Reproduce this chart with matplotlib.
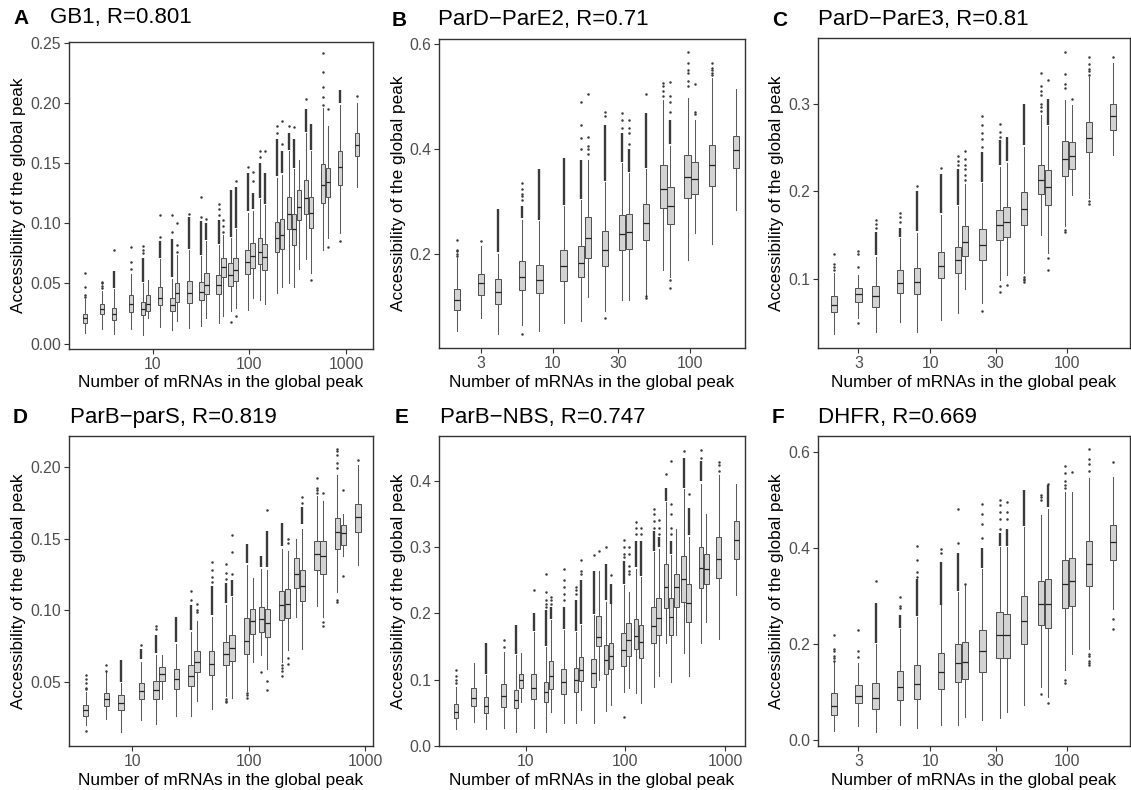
import numpy as np
import matplotlib
matplotlib.use("Agg")
import matplotlib.pyplot as plt

plt.rcParams['font.family'] = ['Liberation Sans', 'DejaVu Sans']

# ---- panel A: GB1 ----
a_pos = [2, 3, 4, 6, 8, 9, 12, 16, 18, 24, 32, 36, 48, 54, 64, 72, 96, 108, 128, 144, 192, 216, 256, 288, 324, 384, 432, 576, 648, 864, 1296]
a_lo = [.009, .012, .008, .012, .007, .021, .014, .011, .019, .013, .015, .021, .017, .023, .027, .030, .028, .038, .036, .033, .042, .047, .050, .047, .062, .070, .059, .078, .088, .092, .130]
a_q1 = [.017, .025, .020, .026, .024, .027, .032, .027, .035, .034, .036, .041, .041, .055, .048, .052, .058, .063, .066, .061, .076, .079, .095, .082, .103, .108, .096, .117, .122, .132, .156]
a_med = [.021, .029, .025, .033, .029, .033, .038, .032, .042, .042, .043, .049, .049, .064, .057, .061, .068, .073, .076, .072, .088, .090, .108, .095, .114, .121, .109, .132, .134, .147, .165]
a_q3 = [.025, .033, .030, .040, .035, .040, .047, .038, .050, .052, .051, .059, .057, .071, .067, .071, .078, .084, .088, .083, .101, .104, .122, .108, .128, .136, .122, .149, .146, .160, .175]
a_hi = [.037, .044, .045, .058, .050, .053, .070, .054, .074, .078, .073, .085, .082, .090, .088, .095, .109, .110, .120, .115, .138, .140, .160, .145, .153, .175, .160, .196, .181, .198, .200]
a_band = [None, None, (.046, .060), None, (.051, .071), None, (.071, .085), (.055, .087), None, (.079, .105), (.074, .102), (.086, .100), (.083, .103), None, (.089, .128), (.096, .130), (.110, .142), (.112, .125), (.121, .150), (.116, .142), (.139, .170), (.142, .160), (.161, .175), (.146, .170), None, (.176, .195), (.161, .183), None, None, (.200, .211), None]
a_out = [[.039, .040, .047, .059], [.046, .048, .050, .051], [.078], [.062, .068, .080], [.075, .078, .081], [], [.089, .107], [.093, .107], [.076, .082, .100], [.108], [.105, .122], [.104], [.107, .112, .116], [.093, .098, .103], [.018], [.023, .135], [.147], [.135, .143], [.155, .160], [.160], [.175, .181], [.166, .185], [.181], [.180], [], [.203], [.053], [.198, .205, .213, .226, .242], [.195, .080], [.085], [.206]]

# ---- panel B: ParD-ParE2 ----
b_pos = [2, 3, 4, 6, 8, 12, 16, 18, 24, 32, 36, 48, 64, 72, 96, 108, 144, 216]
b_lo = [.053, .078, .048, .065, .053, .069, .072, .119, .091, .113, .113, .119, .170, .157, .189, .240, .219, .283]
b_q1 = [.093, .1225, .105, .132, .126, .148, .156, .192, .1765, .207, .2095, .227, .2876, .2578, .3067, .315, .330, .363]
b_med = [.113, .145, .127, .157, .151, .1765, .183, .230, .208, .239, .242, .260, .324, .291, .347, .342, .369, .3975]
b_q3 = [.133, .1625, .152, .186, .180, .207, .215, .271, .243, .275, .276, .296, .370, .3276, .389, .375, .4076, .425]
b_hi = [.193, .2146, .200, .265, .262, .291, .303, .380, .338, .373, .354, .361, .494, .405, .497, .455, .535, .514]
b_band = [None, None, (.203, .285), (.268, .291), (.265, .362), (.293, .382), (.305, .380), None, (.340, .445), (.375, .430), (.356, .400), (.363, .468), None, (.410, .455), None, None, None, None]
b_out = [[.197, .200, .205, .208, .227], [.225], [], [.048, .303, .310, .315, .323, .335], [], [], [.40, .42, .445, .49], [.391, .40, .405, .423, .505], [.079, .462, .47], [.44, .455, .468], [.41, .43, .44, .455], [.117, .12, .505], [.50, .51, .52, .525], [.135, .15, .47, .49, .50, .527], [.52, .53, .545, .55, .564, .585], [.466, .47, .523], [.54, .545, .55, .555, .563], []]

# ---- panel C: ParD-ParE3 ----
c_pos = [2, 3, 4, 6, 8, 12, 16, 18, 24, 32, 36, 48, 64, 72, 96, 108, 144, 216]
c_lo = [.0368, .055, .0387, .050, .039, .053, .0608, .088, .072, .099, .1046, .1065, .150, .129, .160, .196, .192, .2417]
c_q1 = [.0615, .073, .068, .0836, .0825, .1008, .1065, .1255, .1217, .1446, .1476, .1617, .1968, .1846, .2177, .2253, .2444, .2695]
c_med = [.0703, .0825, .080, .095, .0958, .115, .121, .142, .139, .161, .1644, .1796, .213, .2048, .2368, .240, .2608, .2855]
c_q3 = [.0806, .0893, .092, .1095, .112, .130, .136, .160, .157, .179, .182, .1987, .230, .2238, .257, .2558, .2787, .300]
c_hi = [.106, .1046, .125, .1465, .152, .173, .1827, .208, .209, .228, .232, .251, .287, .274, .3046, .2989, .330, .3465]
c_band = [None, None, (.127, .153), (.148, .158), (.154, .200), (.175, .220), (.184, .225), None, (.211, .245), (.230, .258), (.234, .262), (.253, .300), None, (.276, .305), None, None, None, None]
c_out = [[.110, .113, .117, .128], [.049, .113, .128, .132], [.158, .162, .167], [.165, .170, .175], [.206], [.227], [.23, .235, .24], [.213, .218, .225, .23, .237, .2455], [.063, .25, .26, .267, .276, .2855], [.085, .092, .262, .268, .277], [.093], [.096, .098, .100, .102], [.292, .296, .30, .31, .315, .32, .335], [.110, .1236, .327], [.153, .156, .318, .323, .334, .359], [.305], [.1857, .1884, .333, .337, .34, .345, .353], [.353]]

# ---- panel D: ParB-parS ----
d_pos = [4, 6, 8, 12, 16, 18, 24, 32, 36, 48, 64, 72, 96, 108, 128, 144, 192, 216, 256, 288, 384, 432, 576, 648, 864]
d_lo = [.0198, .0244, .0151, .0233, .021, .0384, .0263, .0263, .0365, .0314, .040, .039, .044, .064, .0686, .059, .064, .072, .0953, .0733, .1028, .0953, .1128, .138, .1319]
d_q1 = [.0263, .0333, .0302, .0379, .0379, .0507, .0449, .0472, .057, .0547, .0616, .0647, .0698, .0837, .0849, .0814, .0935, .0947, .1156, .1063, .128, .1256, .143, .1458, .1547]
d_med = [.0302, .0384, .0356, .0437, .0442, .0553, .0519, .0542, .064, .0628, .0698, .074, .0784, .0923, .0937, .0912, .1035, .1047, .1256, .1167, .139, .1379, .1547, .154, .165]
d_q3 = [.0337, .0426, .0407, .0495, .0507, .0605, .0588, .0616, .0714, .0714, .0779, .083, .0947, .1007, .1023, .1012, .1133, .1147, .1365, .128, .1484, .1484, .1644, .1598, .1744]
d_hi = [.043, .057, .049, .064, .0686, .0686, .0767, .0849, .0923, .0953, .1035, .109, .1314, .1226, .129, .128, .143, .1412, .150, .157, .180, .176, .1942, .1674, .2012]
d_band = [None, None, (.050, .065), (.066, .073), (.070, .083), None, (.078, .095), (.086, .104), None, (.097, .117), (.105, .119), (.110, .121), (.133, .146), None, (.130, .138), (.130, .155), (.145, .161), None, None, (.160, .172), None, None, None, None, None]
d_out = [[.0156, .045, .046, .049, .052, .055], [.058, .0616], [], [.076], [.087, .089], [], [], [.107, .1133], [.0985, .1005, .1045], [.120, .123, .128, .1337], [.036, .037, .038, .122, .126, .1326], [.125, .1407, .1528], [.039, .041, .042], [], [.057], [.0442, .051, .170], [.054, .058, .060, .062], [.0628, .0667, .147, .150], [], [.175, .179], [.182, .184, .185, .1923], [.089, .092, .182], [.106, .107, .199, .203, .208, .211, .2128], [.124, .1837], [.2051]]

# ---- panel E: ParB-NBS ----
e_pos = [2, 3, 4, 6, 8, 9, 12, 16, 18, 24, 32, 36, 48, 54, 64, 72, 96, 108, 128, 144, 192, 216, 256, 288, 324, 384, 432, 576, 648, 864, 1296]
e_lo = [.0247, .0363, .0247, .026, .0212, .0665, .026, .0212, .0514, .0338, .0338, .0539, .0338, .0992, .052, .0615, .0816, .0866, .079, .064, .089, .1058, .1547, .0957, .168, .1395, .1058, .156, .1864, .162, .2277]
e_q1 = [.0413, .0605, .0489, .059, .0564, .0866, .0705, .0655, .0856, .0776, .0806, .0977, .0892, .151, .109, .116, .121, .136, .147, .132, .1557, .168, .2076, .168, .210, .2176, .1874, .2388, .2453, .253, .283]
e_med = [.0514, .0725, .060, .075, .069, .099, .0866, .0806, .1058, .0967, .0992, .1144, .110, .1637, .129, .1355, .144, .1597, .166, .157, .1814, .1934, .240, .195, .240, .2514, .2166, .269, .267, .283, .3118]
e_q3 = [.0625, .0866, .073, .094, .0846, .109, .1078, .0967, .128, .1159, .1179, .1345, .1305, .196, .152, .156, .171, .185, .1914, .1824, .210, .2227, .2756, .2237, .259, .287, .2453, .3008, .2907, .316, .3405]
e_hi = [.089, .1244, .107, .142, .137, .1395, .172, .1496, .190, .1748, .172, .1824, .1975, .2645, .218, .2136, .243, .2327, .268, .2554, .293, .298, .3688, .289, .3285, .389, .316, .3965, .351, .409, .3965]
e_band = [None, None, (.108, .155), None, (.138, .183), None, (.173, .200), (.151, .205), (.192, .210), (.176, .210), (.174, .220), (.184, .250), (.199, .265), None, (.220, .275), (.215, .245), (.245, .280), None, (.270, .310), (.257, .310), (.295, .325), (.300, .315), (.370, .390), (.290, .310), None, (.390, .435), (.318, .360), (.400, .430), None, None, None]
e_out = [[.095, .10, .105, .1139], [], [], [.15, .16], [], [], [.235], [.21, .215, .22, .232, .26], [.215, .22, .225], [.22, .23, .24, .25, .267], [.23, .235, .24], [.26, .265, .2806], [.289], [.294], [.30], [.258], [.0438, .285, .29, .30, .3118], [.26, .265, .272, .29, .30], [.32, .33, .3385], [.32, .33], [.33, .34, .35, .3587], [.32, .33, .341], [.4116], [.32, .33, .35, .365, .43], [], [.4453], [.38], [.435, .448], [], [.415, .425, .429], []]

# ---- panel F: DHFR ----
f_pos = [2, 3, 4, 6, 8, 12, 16, 18, 24, 32, 36, 48, 64, 72, 96, 108, 144, 216]
f_lo = [.018, .0292, .0167, .0306, .025, .0306, .0306, .048, .042, .0458, .058, .0722, .110, .0896, .145, .18, .19, .2736]
f_q1 = [.0528, .0778, .0653, .084, .086, .1056, .1208, .1278, .1417, .171, .171, .2007, .239, .2333, .2757, .279, .320, .374]
f_med = [.0708, .0917, .088, .1097, .1174, .1417, .1604, .1625, .1847, .2194, .2194, .2486, .284, .284, .3243, .332, .367, .4125]
f_q3 = [.098, .114, .1194, .143, .1556, .182, .2007, .204, .2299, .2667, .263, .2993, .332, .336, .3757, .380, .414, .4486]
f_hi = [.1625, .161, .2007, .232, .256, .2806, .308, .322, .357, .402, .402, .4437, .469, .482, .5167, .5167, .546, .548]
f_band = [None, None, (.202, .285), (.234, .260), (.258, .335), (.282, .370), (.310, .390), None, (.358, .400), (.404, .430), (.404, .440), (.445, .520), None, (.485, .530), None, None, None, None]
f_out = [[.165, .17, .175, .185, .19, .218], [.172, .185, .2285], [.3306], [.275, .28, .298], [.34, .35, .375, .404], [.39, .397], [.41, .482], [.3257], [.42, .45, .47, .4924], [.44, .46, .475, .49, .4993], [.46, .474, .4958], [], [.0951, .50, .505, .51], [.0778, .534], [.119, .124, .525, .53, .54, .555, .5708], [.558], [.157, .16, .165, .175, .18, .56, .575, .585, .605], [.232, .2528, .5785]]

titles = ["GB1, R=0.801", "ParD\u2212ParE2, R=0.71", "ParD\u2212ParE3, R=0.81",
          "ParB\u2212parS, R=0.819", "ParB\u2212NBS, R=0.747", "DHFR, R=0.669"]
letters = ["A", "B", "C", "D", "E", "F"]
xt_long = [10, 100, 1000]
xt_short = [3, 10, 30, 100]

W, H = 1131, 790
fig = plt.figure(figsize=(W / 100, H / 100), dpi=100)

# (left, right, top, bottom) in pixels, plus text anchors
panels = [
    dict(data=(a_pos, a_lo, a_q1, a_med, a_q3, a_hi, a_band, a_out), box=(69, 373, 42, 349),
         xlim=(0.138, 3.276), ylim=(-0.0045, 0.2508), yt=[0, .05, .10, .15, .20, .25], yfmt="{:.2f}",
         xt=xt_long, let_x=13, tit_x=50, tit_y=18, ylab_x=19),
    dict(data=(b_pos, b_lo, b_q1, b_med, b_q3, b_hi, b_band, b_out), box=(439, 745, 39, 348),
         xlim=(0.172, 2.40), ylim=(0.021, 0.6095), yt=[.2, .4, .6], yfmt="{:.1f}",
         xt=xt_short, let_x=392, tit_x=438, tit_y=20, ylab_x=398),
    dict(data=(c_pos, c_lo, c_q1, c_med, c_q3, c_hi, c_band, c_out), box=(818, 1130, 38, 348),
         xlim=(0.182, 2.456), ylim=(0.0208, 0.375), yt=[.1, .2, .3], yfmt="{:.1f}",
         xt=xt_short, let_x=772, tit_x=818, tit_y=20, ylab_x=777),
    dict(data=(d_pos, d_lo, d_q1, d_med, d_q3, d_hi, d_band, d_out), box=(69, 373, 436, 746),
         xlim=(0.458, 3.066), ylim=(0.00535, 0.2216), yt=[.05, .10, .15, .20], yfmt="{:.2f}",
         xt=xt_long, let_x=13, tit_x=70, tit_y=417, ylab_x=19),
    dict(data=(e_pos, e_lo, e_q1, e_med, e_q3, e_hi, e_band, e_out), box=(439, 745, 436, 746),
         xlim=(0.13, 3.2), ylim=(-0.0005, 0.4685), yt=[0, .1, .2, .3, .4], yfmt="{:.1f}",
         xt=xt_long, let_x=395, tit_x=440, tit_y=417, ylab_x=398),
    dict(data=(f_pos, f_lo, f_q1, f_med, f_q3, f_hi, f_band, f_out), box=(818, 1130, 436, 746),
         xlim=(0.182, 2.456), ylim=(-0.0125, 0.633), yt=[0, .2, .4, .6], yfmt="{:.1f}",
         xt=xt_short, let_x=772, tit_x=818, tit_y=417, ylab_x=777),
]

box_fill = "#D3D3D3"
edge = "#4D4D4D"
whisk = "#5A5A5A"
dot = "#3A3A3A"

for i, p in enumerate(panels):
    pos, lo, q1, med, q3, hi, band, out = p["data"]
    l, r, t, b = p["box"]
    ax = fig.add_axes([l / W, 1 - b / H, (r - l) / W, (b - t) / H])
    lx = np.log10(pos)
    width = 0.9 * np.min(np.diff(lx))
    stats = [dict(med=med[k], q1=q1[k], q3=q3[k], whislo=lo[k], whishi=hi[k], fliers=[])
             for k in range(len(pos))]
    ax.bxp(stats, positions=lx, widths=width, showcaps=False, showfliers=False,
           patch_artist=True, manage_ticks=False,
           boxprops=dict(facecolor=box_fill, edgecolor=edge, linewidth=0.7),
           whiskerprops=dict(color=whisk, linewidth=0.75),
           medianprops=dict(color="#222222", linewidth=0.9))
    for k in range(len(pos)):
        if band[k] is not None:
            ax.vlines(lx[k], band[k][0], band[k][1], color=dot, linewidth=1.7, zorder=3)
        if out[k]:
            ax.plot([lx[k]] * len(out[k]), out[k], "o", ms=1.8, color=dot, mec="none", zorder=3)

    ax.set_xlim(*p["xlim"])
    ax.set_ylim(*p["ylim"])
    ax.set_xticks(np.log10(p["xt"]))
    ax.set_xticklabels([str(v) for v in p["xt"]])
    ax.set_yticks(p["yt"])
    ax.set_yticklabels([p["yfmt"].format(v) for v in p["yt"]])
    ax.tick_params(labelsize=11.3, labelcolor="#4D4D4D", color="#333333", length=3.5, width=0.8, pad=2)
    for s in ax.spines.values():
        s.set_color("#333333")
        s.set_linewidth(1.0)

    cx = (l + r) / 2 / W
    fig.text(cx, 1 - (b + 34) / H, "Number of mRNAs in the global peak",
             ha="center", va="center", fontsize=12.4)
    fig.text(p["ylab_x"] / W, 1 - (t + b) / 2 / H, "Accessibility of the global peak",
             ha="center", va="center", rotation=90, fontsize=12.4)
    fig.text(p["let_x"] / W, 1 - p["tit_y"] / H, letters[i], ha="left", va="center",
             fontsize=15, fontweight="bold")
    fig.text(p["tit_x"] / W, 1 - p["tit_y"] / H, titles[i], ha="left", va="center", fontsize=16)

fig.savefig("out.png", dpi=100)
